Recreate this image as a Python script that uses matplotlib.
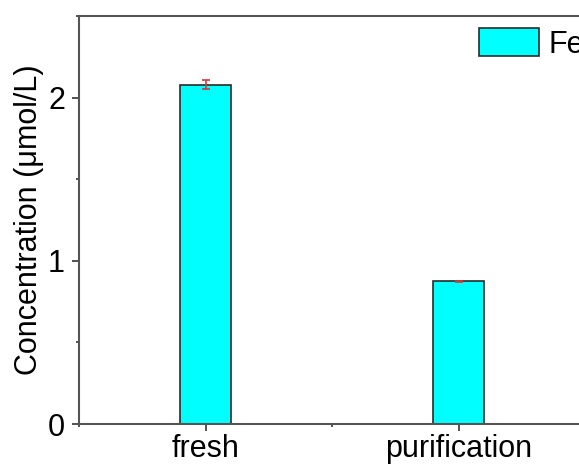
import numpy as np
import matplotlib.pyplot as plt
from matplotlib.ticker import MultipleLocator

samples = ["fresh", "purification"]
fe_conc = [2.08, 0.875]
fe_err = [0.03, 0.004]

plt.rcParams["font.family"] = ["Liberation Sans", "DejaVu Sans"]

fig = plt.figure(figsize=(5.79, 4.66), dpi=100)
W, H = 579, 466
# axes runs a bit past the right edge of the picture, as in the original
ax = fig.add_axes([79 / W, 1 - 424 / H, (585 - 79) / W, (424 - 16) / H])

x = np.arange(1, len(samples) + 1)
ax.bar(x, fe_conc, width=0.2, color="#00ffff", edgecolor="#2b2b2b",
       linewidth=1.2, label="Fe", zorder=2)
ax.errorbar(x, fe_conc, yerr=fe_err, fmt="none", ecolor="#d03a3a",
            elinewidth=1.2, capsize=3, capthick=1.2, zorder=3)

ax.set_xlim(0.5, 2.5)
ax.set_ylim(0, 2.5)
ax.set_xticks(x)
ax.set_xticklabels(samples)
ax.xaxis.set_minor_locator(MultipleLocator(0.5))
ax.yaxis.set_major_locator(MultipleLocator(1))
ax.yaxis.set_minor_locator(MultipleLocator(0.5))
ax.tick_params(which="major", direction="out", length=5, width=1.3,
               labelsize=22, color="#444444", pad=5)
ax.tick_params(axis="x", which="major", pad=2)
ax.tick_params(which="minor", direction="out", length=2.5, width=1.3,
               color="#444444")
for s in ax.spines.values():
    s.set_linewidth(1.5)
    s.set_color("#555555")

ax.set_ylabel("Concentration (\u03bcmol/L)", fontsize=22, labelpad=3)

fig.legend(loc="upper left", bbox_to_anchor=(479 / W, 1 - 28 / H),
           frameon=False, fontsize=22, handlelength=1.96, handleheight=1.05,
           handletextpad=0.3, borderpad=0, borderaxespad=0)

fig.savefig("out.png", dpi=100)
